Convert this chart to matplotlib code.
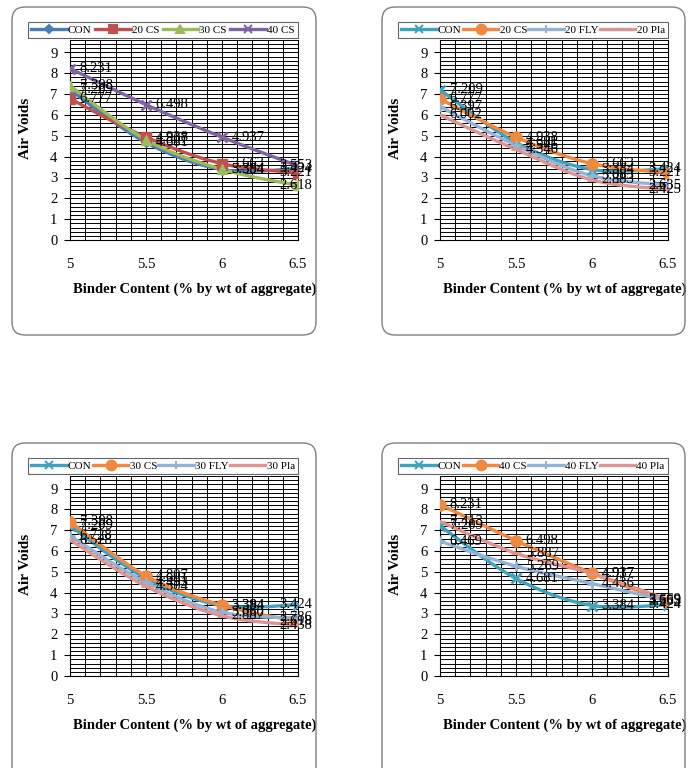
import numpy as np
import matplotlib
matplotlib.use("Agg")
import matplotlib.pyplot as plt
from matplotlib.patches import FancyBboxPatch
from matplotlib.ticker import MultipleLocator

# binder content (% by wt of aggregate)
binder = [5, 5.5, 6, 6.5]

# air voids for each mix
con = [7.209, 4.681, 3.384, 3.424]
cs20 = [6.777, 4.938, 3.663, 3.221]
cs30 = [7.398, 4.807, 3.394, 2.618]
cs40 = [8.231, 6.498, 4.937, 3.553]
fly20 = [6.397, 4.546, 3.083, 2.635]
pla20 = [6.002, 4.346, 2.883, 2.425]
fly30 = [6.728, 4.493, 3.060, 2.786]
pla30 = [6.528, 4.304, 2.887, 2.438]
fly40 = [6.469, 5.269, 4.436, 3.609]
pla40 = [7.413, 5.887, 4.917, 3.669]

panel1_names = ["CON", "20 CS", "30 CS", "40 CS"]
panel2_names = ["CON", "20 CS", "20 FLY", "20 Pla"]
panel3_names = ["CON", "30 CS", "30 FLY", "30 Pla"]
panel4_names = ["CON", "40 CS", "40 FLY", "40 Pla"]

plt.rcParams["font.family"] = ["Liberation Serif", "DejaVu Serif"]

# excel 2007 style colours / markers
style1 = [("#4a7ebb", "D", 5), ("#c0504d", "s", 7), ("#9bbb59", "^", 7), ("#8064a2", "x", 7)]
style2 = [("#3fa3bd", "x", 7), ("#f0883e", "o", 8), ("#95b3d7", "+", 7), ("#e09491", "_", 7)]


def smooth(xs, ys, n=30):
    # catmull-rom like excel "smoothed line"
    xs = np.asarray(xs, float)
    ys = np.asarray(ys, float)
    px = np.concatenate([[xs[0]], xs, [xs[-1]]])
    py = np.concatenate([[ys[0]], ys, [ys[-1]]])
    out_x, out_y = [], []
    t = np.linspace(0, 1, n)
    for i in range(1, len(px) - 2):
        p0x, p1x, p2x, p3x = px[i - 1], px[i], px[i + 1], px[i + 2]
        p0y, p1y, p2y, p3y = py[i - 1], py[i], py[i + 1], py[i + 2]
        c1x, c1y = p1x + (p2x - p0x) / 6, p1y + (p2y - p0y) / 6
        c2x, c2y = p2x - (p3x - p1x) / 6, p2y - (p3y - p1y) / 6
        bx = (1 - t) ** 3 * p1x + 3 * (1 - t) ** 2 * t * c1x + 3 * (1 - t) * t ** 2 * c2x + t ** 3 * p2x
        by = (1 - t) ** 3 * p1y + 3 * (1 - t) ** 2 * t * c1y + 3 * (1 - t) * t ** 2 * c2y + t ** 3 * p2y
        out_x.extend(bx)
        out_y.extend(by)
    return out_x, out_y


W, H = 689, 768
fig = plt.figure(figsize=(W / 100, H / 100), dpi=100)


def panel(box_left, box_top, box_w, box_h, series, names, styles):
    # rounded frame around each chart
    frame = FancyBboxPatch((box_left / 100, (H - box_top - box_h) / 100), box_w / 100, box_h / 100,
                           boxstyle="round,pad=0,rounding_size=0.13",
                           transform=fig.dpi_scale_trans, fill=False, ec="#7f7f7f", lw=1.0)
    fig.add_artist(frame)

    ax_left = box_left + 58
    ax_top = box_top + 33
    ax = fig.add_axes([ax_left / W, (H - ax_top - 200) / H, 228 / W, 200 / H])

    # labels of the last point are kept inside the frame (right aligned)
    last_off = (box_left + box_w - 4 - (ax_left + 228)) * 0.72

    for ys, name, (col, mk, ms) in zip(series, names, styles):
        sx, sy = smooth(binder, ys)
        ax.plot(sx, sy, color=col, lw=2.4, zorder=3)
        ax.plot(binder, ys, ls="none", marker=mk, ms=ms, color=col,
                mec=col, mew=2 if mk in "x+_" else 1, zorder=4)
        ax.plot([], [], color=col, lw=2.4, marker=mk, ms=ms - 1, mew=1.5, label=name)
        for i, (x, y) in enumerate(zip(binder, ys)):
            if i == len(binder) - 1:
                off, ha = last_off, "right"
            else:
                off, ha = 7, "left"
            ax.annotate(f"{y:.3f}", (x, y), xytext=(off, 0), textcoords="offset points",
                        ha=ha, va="center", fontsize=10.5, color="black", zorder=5,
                        annotation_clip=False)

    ax.set_xlim(5, 6.5)
    ax.set_ylim(0, 9.6)
    ax.set_xticks(binder)
    ax.set_xticklabels(["5", "5.5", "6", "6.5"])
    ax.set_yticks(range(10))
    ax.xaxis.set_minor_locator(MultipleLocator(0.1))
    ax.yaxis.set_minor_locator(MultipleLocator(0.2))
    ax.grid(True, which="both", color="black", lw=0.7)
    ax.set_axisbelow(True)
    ax.tick_params(axis="x", which="both", length=0, pad=13, labelsize=10.5)
    ax.tick_params(axis="y", which="major", length=4, pad=5, labelsize=10.5)
    ax.tick_params(axis="y", which="minor", length=0)
    for s in ax.spines.values():
        s.set_color("black")
        s.set_linewidth(0.8)
    ax.spines["top"].set_visible(False)

    ax.set_xlabel("Binder Content (% by wt of aggregate)", fontsize=10.5, fontweight="bold")
    ax.xaxis.set_label_coords(0.545, -0.215)
    ax.set_ylabel("Air Voids", fontsize=11, fontweight="bold")
    ax.yaxis.set_label_coords(-0.165, 0.56)

    leg = ax.legend(loc="lower left", bbox_to_anchor=(-0.185, 1.01, 1.185, 0.105), mode="expand",
                    ncol=4, fontsize=8, frameon=True, fancybox=False, borderpad=0.3,
                    handlelength=3.2, handletextpad=0.1, columnspacing=0.6, borderaxespad=0)
    leg.get_frame().set_edgecolor("#404040")
    leg.get_frame().set_linewidth(0.8)
    return ax


panel(12, 7, 304, 328, [con, cs20, cs30, cs40], panel1_names, style1)
panel(382, 7, 303, 328, [con, cs20, fly20, pla20], panel2_names, style2)
panel(12, 443, 304, 345, [con, cs30, fly30, pla30], panel3_names, style2)
panel(382, 443, 303, 345, [con, cs40, fly40, pla40], panel4_names, style2)

fig.savefig("out.png", dpi=100)
